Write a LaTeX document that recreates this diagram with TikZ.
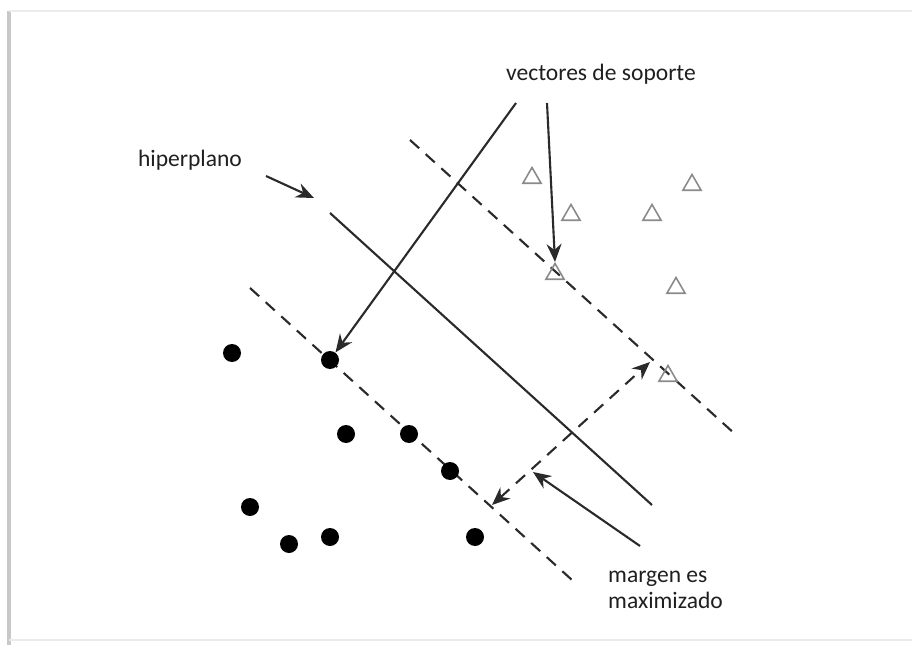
\documentclass[tikz,border=0pt]{standalone}
\usepackage{fontspec}
\setmainfont{Carlito}
\usetikzlibrary{arrows.meta,shapes.geometric}
\definecolor{linegray}{HTML}{2A2A2A}
\definecolor{trigray}{HTML}{8A8A8A}
\definecolor{framegray}{HTML}{C8C8C8}
\tikzset{
  dot/.style={circle, fill=black, inner sep=0pt, minimum width=0.36cm, minimum height=0.33cm},
  tri/.style={regular polygon, regular polygon sides=3, draw=trigray, line width=0.9pt, inner sep=0pt, minimum size=0.42cm},
  lbl/.style={font=\fontsize{13.4}{14.8}\selectfont, text=black!88, align=left},
  margin/.style={draw=linegray, line width=1.2pt, dash pattern=on 7pt off 5pt},
}
\begin{document}
\begin{tikzpicture}[x=0.02cm, y=-0.02cm, >={Stealth[length=0.36cm, width=0.3cm, inset=0.12cm]}]
  \useasboundingbox (0,0) rectangle (912,645);
  % frame
  \draw[framegray, line width=2.5pt] (9,645) -- (9,11);
  \draw[black!8, line width=1pt] (9,11) -- (912,11);
  \draw[black!8, line width=1pt] (9,640) -- (912,640);

  % hyperplane and margins
  \coordinate (hypA) at (330,213);
  \coordinate (hypB) at (652,505);
  \coordinate (upA) at (410,140);
  \coordinate (upB) at (735,434);
  \coordinate (loA) at (250,288);
  \coordinate (loB) at (572,580);
  \draw[linegray, line width=1.2pt] (hypA) -- (hypB);
  \draw[margin] (upA) -- (upB);
  \draw[margin] (loA) -- (loB);

  % class 1: triangles
  \node[tri] (t1) at (532,178) {};
  \node[tri] (t2) at (571,215) {};
  \node[tri] (t3) at (652,215) {};
  \node[tri] (t4) at (692,185) {};
  \node[tri] (t5) at (555,274) {};
  \node[tri] (t6) at (676,288) {};
  \node[tri] (t7) at (668,376) {};

  % class 2: dots
  \node[dot] (d1) at (232,353) {};
  \node[dot] (d2) at (330,360) {};
  \node[dot] (d3) at (346,434) {};
  \node[dot] (d4) at (409,434) {};
  \node[dot] (d5) at (450,471) {};
  \node[dot] (d6) at (250,507) {};
  \node[dot] (d7) at (289,544) {};
  \node[dot] (d8) at (330,537) {};
  \node[dot] (d9) at (475,537) {};

  % labels
  \node[lbl] (vs) at (601,74) {vectores de soporte};
  \node[lbl] (hyp) at (190,160) {hiperplano};
  \node[lbl, anchor=north west] (mar) at (602,565) {margen es\\maximizado};

  \coordinate (vsL) at (516,103);
  \coordinate (vsR) at (547,103);
  \coordinate (hypTail) at (266,176);
  \coordinate (hypTip) at (314,198);
  \coordinate (marTail) at (640,546);
  \coordinate (marTip) at (533,472);
  \coordinate (mgLo) at (492,505);
  \coordinate (mgUp) at (650,362);

  \draw[->, linegray, line width=1.2pt] (vsL) -- (d2);
  \draw[->, linegray, line width=1.2pt] (vsR) -- (t5.north);
  \draw[->, linegray, line width=1.2pt] (hypTail) -- (hypTip);
  \draw[->, linegray, line width=1.2pt] (marTail) -- (marTip);
  \draw[<->, margin] (mgLo) -- (mgUp);
\end{tikzpicture}
\end{document}
